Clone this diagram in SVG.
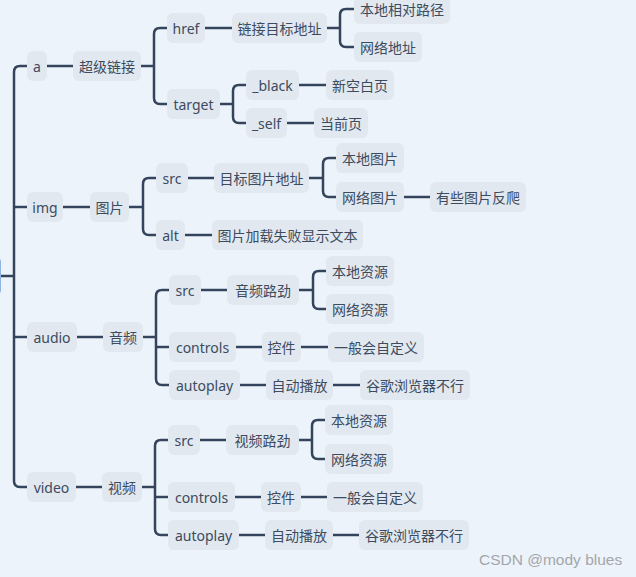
<svg xmlns="http://www.w3.org/2000/svg" width="636" height="577" viewBox="0 0 636 577">
<style>
.bg{fill:#edf3fa}
.n rect{fill:#e1e8f0;rx:6px}
.n text{font-family:"Noto Sans","Noto Sans CJK SC",sans-serif;font-size:14px;fill:#3d4b5e;text-anchor:middle;dominant-baseline:central}
.c path{fill:none;stroke:#34445c;stroke-width:2.5;stroke-linecap:butt}
.wm{font-family:"Liberation Sans","Noto Sans CJK SC",sans-serif;font-size:15.5px;fill:#a3a7ac}
</style>
<rect class="bg" x="0" y="0" width="636" height="577"/>
<g id="connectors" class="c">
<path d="M0,276 H14"/>
<path d="M27,66 H20 Q14,66 14,72 V481 Q14,487 20,487 H27"/>
<path d="M14,207 H27"/>
<path d="M14,337 H27"/>
<path d="M47,66 H73"/>
<path d="M63,207 H90"/>
<path d="M77,337 H103"/>
<path d="M76,487 H102"/>
<path d="M141,66 H154"/>
<path d="M167,28 H160 Q154,28 154,34 V98 Q154,104 160,104 H167"/>
<path d="M205,28 H232"/>
<path d="M327,28 H340"/>
<path d="M354,9 H346 Q340,9 340,15 V41 Q340,47 346,47 H354"/>
<path d="M220,104 H233"/>
<path d="M246,85 H239 Q233,85 233,91 V117 Q233,123 239,123 H246"/>
<path d="M299,85 H326"/>
<path d="M287,123 H314"/>
<path d="M129,207 H143"/>
<path d="M156,178 H149 Q143,178 143,184 V229 Q143,235 149,235 H156"/>
<path d="M188,178 H214"/>
<path d="M185,235 H212"/>
<path d="M309,178 H323"/>
<path d="M336,158 H329 Q323,158 323,164 V191 Q323,197 329,197 H336"/>
<path d="M404,197 H430"/>
<path d="M143,337 H156"/>
<path d="M169,290 H162 Q156,290 156,296 V379 Q156,385 162,385 H169"/>
<path d="M156,347 H169"/>
<path d="M201,290 H227"/>
<path d="M299,290 H313"/>
<path d="M326,271 H319 Q313,271 313,277 V303 Q313,309 319,309 H326"/>
<path d="M236,347 H262"/>
<path d="M301,347 H328"/>
<path d="M240,385 H266"/>
<path d="M333,385 H360"/>
<path d="M142,487 H155"/>
<path d="M168,440 H161 Q155,440 155,446 V529 Q155,535 161,535 H168"/>
<path d="M155,497 H168"/>
<path d="M200,440 H226"/>
<path d="M299,440 H312"/>
<path d="M325,420 H318 Q312,420 312,426 V453 Q312,459 318,459 H325"/>
<path d="M235,497 H261"/>
<path d="M301,497 H327"/>
<path d="M239,535 H265"/>
<path d="M333,535 H359"/>
</g>
<g id="root"><rect x="-10" y="258" width="11" height="36" rx="4" fill="#8fb4e0"/></g>
<g id="n-a" class="n"><rect x="27" y="51" width="20" height="30"/><text x="37" y="66">a</text></g>
<g id="n-chaoji" class="n"><rect x="73" y="51" width="68" height="30"/><text x="107" y="66">超级链接</text></g>
<g id="n-href" class="n"><rect x="167" y="13" width="38" height="30"/><text x="186" y="28">href</text></g>
<g id="n-target" class="n"><rect x="167" y="89" width="53" height="30"/><text x="193.5" y="104">target</text></g>
<g id="n-lianjie" class="n"><rect x="232" y="13" width="95" height="30"/><text x="279.5" y="28">链接目标地址</text></g>
<g id="n-bendixiangdui" class="n"><rect x="354" y="-6" width="96" height="30"/><text x="402" y="9">本地相对路径</text></g>
<g id="n-wangluodizhi" class="n"><rect x="354" y="32" width="68" height="30"/><text x="388" y="47">网络地址</text></g>
<g id="n-black" class="n"><rect x="246" y="70" width="53" height="30"/><text x="272.5" y="85">_black</text></g>
<g id="n-self" class="n"><rect x="246" y="108" width="41" height="30"/><text x="266.5" y="123">_self</text></g>
<g id="n-xinkong" class="n"><rect x="326" y="70" width="68" height="30"/><text x="360" y="85">新空白页</text></g>
<g id="n-dangqian" class="n"><rect x="314" y="108" width="54" height="30"/><text x="341" y="123">当前页</text></g>
<g id="n-img" class="n"><rect x="27" y="192" width="36" height="30"/><text x="45" y="207">img</text></g>
<g id="n-tupian" class="n"><rect x="90" y="192" width="39" height="30"/><text x="109.5" y="207">图片</text></g>
<g id="n-img-src" class="n"><rect x="156" y="163" width="32" height="30"/><text x="172" y="178">src</text></g>
<g id="n-img-alt" class="n"><rect x="156" y="220" width="29" height="30"/><text x="170.5" y="235">alt</text></g>
<g id="n-mubiaotupian" class="n"><rect x="214" y="163" width="95" height="30"/><text x="261.5" y="178">目标图片地址</text></g>
<g id="n-jiazaishibai" class="n"><rect x="212" y="220" width="151" height="30"/><text x="287.5" y="235">图片加载失败显示文本</text></g>
<g id="n-bendetupian" class="n"><rect x="336" y="143" width="68" height="30"/><text x="370" y="158">本地图片</text></g>
<g id="n-wangluotupian" class="n"><rect x="336" y="182" width="68" height="30"/><text x="370" y="197">网络图片</text></g>
<g id="n-fanpa" class="n"><rect x="430" y="182" width="96" height="30"/><text x="478" y="197">有些图片反爬</text></g>
<g id="n-audio" class="n"><rect x="27" y="322" width="50" height="30"/><text x="52" y="337">audio</text></g>
<g id="n-yinpin" class="n"><rect x="103" y="322" width="40" height="30"/><text x="123" y="337">音频</text></g>
<g id="n-audio-src" class="n"><rect x="169" y="275" width="32" height="30"/><text x="185" y="290">src</text></g>
<g id="n-audio-controls" class="n"><rect x="169" y="332" width="67" height="30"/><text x="202.5" y="347">controls</text></g>
<g id="n-audio-autoplay" class="n"><rect x="169" y="370" width="71" height="30"/><text x="204.5" y="385">autoplay</text></g>
<g id="n-yinpinlujin" class="n"><rect x="227" y="275" width="72" height="30"/><text x="263" y="290">音频路劲</text></g>
<g id="n-audio-bendi" class="n"><rect x="326" y="256" width="68" height="30"/><text x="360" y="271">本地资源</text></g>
<g id="n-audio-wangluo" class="n"><rect x="326" y="294" width="68" height="30"/><text x="360" y="309">网络资源</text></g>
<g id="n-audio-kongjian" class="n"><rect x="262" y="332" width="39" height="30"/><text x="281.5" y="347">控件</text></g>
<g id="n-audio-zidingyi" class="n"><rect x="328" y="332" width="96" height="30"/><text x="376" y="347">一般会自定义</text></g>
<g id="n-audio-zidong" class="n"><rect x="266" y="370" width="67" height="30"/><text x="299.5" y="385">自动播放</text></g>
<g id="n-audio-guge" class="n"><rect x="360" y="370" width="110" height="30"/><text x="415" y="385">谷歌浏览器不行</text></g>
<g id="n-video" class="n"><rect x="27" y="472" width="49" height="30"/><text x="51.5" y="487">video</text></g>
<g id="n-shipin" class="n"><rect x="102" y="472" width="40" height="30"/><text x="122" y="487">视频</text></g>
<g id="n-video-src" class="n"><rect x="168" y="425" width="32" height="30"/><text x="184" y="440">src</text></g>
<g id="n-video-controls" class="n"><rect x="168" y="482" width="67" height="30"/><text x="201.5" y="497">controls</text></g>
<g id="n-video-autoplay" class="n"><rect x="168" y="520" width="71" height="30"/><text x="203.5" y="535">autoplay</text></g>
<g id="n-shipinlujin" class="n"><rect x="226" y="425" width="73" height="30"/><text x="262.5" y="440">视频路劲</text></g>
<g id="n-video-bendi" class="n"><rect x="325" y="405" width="68" height="30"/><text x="359" y="420">本地资源</text></g>
<g id="n-video-wangluo" class="n"><rect x="325" y="444" width="68" height="30"/><text x="359" y="459">网络资源</text></g>
<g id="n-video-kongjian" class="n"><rect x="261" y="482" width="40" height="30"/><text x="281" y="497">控件</text></g>
<g id="n-video-zidingyi" class="n"><rect x="327" y="482" width="96" height="30"/><text x="375" y="497">一般会自定义</text></g>
<g id="n-video-zidong" class="n"><rect x="265" y="520" width="68" height="30"/><text x="299" y="535">自动播放</text></g>
<g id="n-video-guge" class="n"><rect x="359" y="520" width="110" height="30"/><text x="414" y="535">谷歌浏览器不行</text></g>
<text class="wm" x="479" y="565">CSDN @mody blues</text>
</svg>
